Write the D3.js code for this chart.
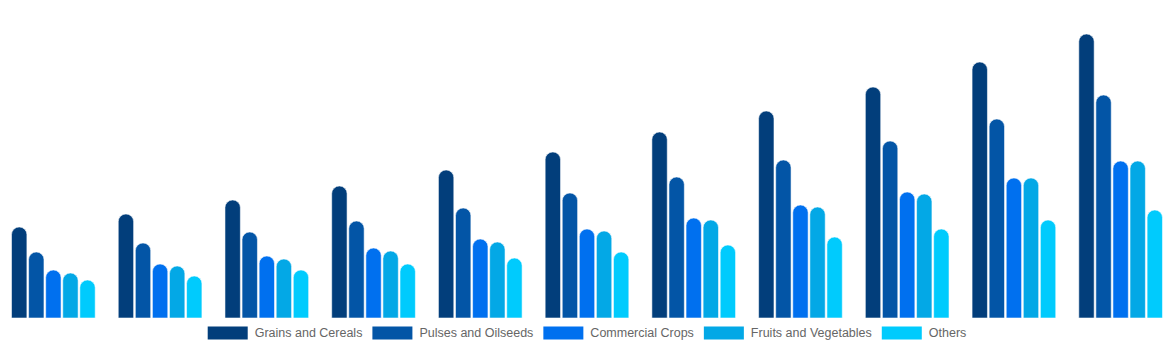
<!DOCTYPE html>
<html>
<head>
<meta charset="utf-8">
<script src="https://cdn.jsdelivr.net/npm/d3@7"></script>
<style>
  html, body { margin: 0; padding: 0; background: #fff; }
  svg { display: block; }
  text { font-family: "Liberation Sans", Arial, Helvetica, sans-serif; }
</style>
</head>
<body>
<svg id="chart" width="1174" height="350"></svg>
<script>
// Output by crop type over eleven periods
const periods = ["P1", "P2", "P3", "P4", "P5", "P6", "P7", "P8", "P9", "P10", "P11"];
const seriesNames = ["Grains and Cereals", "Pulses and Oilseeds", "Commercial Crops", "Fruits and Vegetables", "Others"];
const grainsAndCereals    = [91, 104, 118, 132, 148, 166, 186, 207, 231, 256, 284];
const pulsesAndOilseeds   = [66, 75, 86, 97, 110, 125, 141, 158, 177, 199, 223];
const commercialCrops     = [48, 54, 62, 70, 79, 89, 100, 113, 126, 140, 157];
const fruitsAndVegetables = [45, 52, 59, 67, 76, 87, 98, 111, 124, 140, 157];
const others              = [38, 42, 48, 54, 60, 66, 73, 81, 89, 98, 108];
const seriesValues = [grainsAndCereals, pulsesAndOilseeds, commercialCrops, fruitsAndVegetables, others];
const colors = ["#023e7b", "#0355a6", "#0070ef", "#03a8e6", "#00cbfd"];

const W = 1174, baseY = 318, topY = 18;
const svg = d3.select("#chart");

const x0 = d3.scaleBand().domain(periods).range([0, W]).paddingInner(0.2).paddingOuter(0.1);
const x1 = d3.scaleBand().domain(seriesNames).range([0, x0.bandwidth()]).paddingInner(0.1).paddingOuter(0.05);
const y = d3.scaleLinear().domain([0, 300]).range([baseY, topY]);
const color = d3.scaleOrdinal().domain(seriesNames).range(colors);

// Bar with a fully rounded top and a square base
function barPath(x, w, yTop, yBottom) {
  const r = Math.min(w / 2, (yBottom - yTop));
  return `M${x},${yBottom}` +
         `L${x},${yTop + r}` +
         `A${r},${r} 0 0 1 ${x + w},${yTop + r}` +
         `L${x + w},${yBottom}Z`;
}

const rows = periods.map((p, i) => ({
  period: p,
  bars: seriesNames.map((s, j) => ({ series: s, value: seriesValues[j][i] }))
}));

const groups = svg.append("g").selectAll("g")
  .data(rows)
  .join("g")
  .attr("transform", d => `translate(${x0(d.period)},0)`);

groups.selectAll("path")
  .data(d => d.bars)
  .join("path")
  .attr("d", d => barPath(x1(d.series), x1.bandwidth(), y(d.value), y(0)))
  .attr("fill", d => color(d.series))
  .attr("stroke", "rgba(255,255,255,0.55)")
  .attr("stroke-width", 1);

// Legend, centred along the bottom
const legend = svg.append("g").attr("transform", "translate(0,333)");
const boxW = 40, boxH = 13, textGap = 7, itemGap = 10;
const items = legend.selectAll("g")
  .data(seriesNames)
  .join("g");
items.append("rect")
  .attr("width", boxW).attr("height", boxH)
  .attr("y", -boxH / 2)
  .attr("fill", d => color(d));
items.append("text")
  .attr("x", boxW + textGap)
  .attr("dy", "0.35em")
  .attr("font-size", 12.5)
  .attr("fill", "#666")
  .text(d => d);

const widths = [];
items.each(function() {
  widths.push(boxW + textGap + d3.select(this).select("text").node().getComputedTextLength());
});
const total = d3.sum(widths) + itemGap * (widths.length - 1);
let cx = (W - total) / 2;
items.attr("transform", (d, i) => {
  const t = `translate(${cx},0)`;
  cx += widths[i] + itemGap;
  return t;
});
</script>
</body>
</html>
